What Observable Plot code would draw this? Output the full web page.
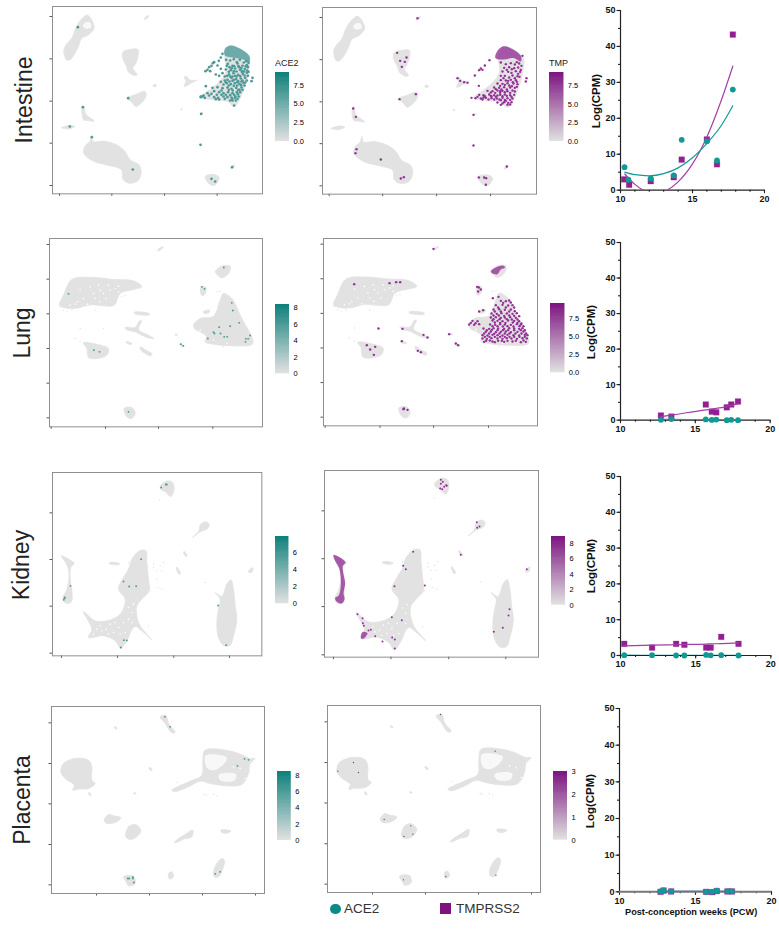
<!DOCTYPE html>
<html><head><meta charset="utf-8">
<script src="https://cdn.jsdelivr.net/npm/d3@7"></script>
<script src="https://cdn.jsdelivr.net/npm/@observablehq/plot@0.6"></script>
<style>
html,body{margin:0;padding:0;background:#fff}
#page{position:relative;width:779px;height:930px;overflow:hidden;font-family:"Liberation Sans",Arial,sans-serif}
#page>svg,#page>figure{position:absolute;margin:0;background:transparent}
.lab{position:absolute;white-space:nowrap;line-height:1;color:#222}
.rot{transform:translate(-50%,-50%) rotate(-90deg)}
</style></head><body><div id="page"></div>
<script>
// ---------- cell map outlines (UMAP position) ----------
const intestineCells=[
[260,44,280,80,264,102,242,114,232,140,207,178,197,178,189,150,198,130,213,113,224,85,240,58],
[430,55,442,45,444,47,433,57],
[366,155,388,147,411,147,411,170,404,190,396,203,409,223,398,224,382,213,376,195,366,175],
[380,293,405,282,433,273,434,291,405,318,394,306],
[245,318,250,318,254,340,280,362,262,360,248,358],
[182,382,205,375,222,378,205,385],
[272,406,276,423,310,422,345,432,372,452,388,478,415,494,421,515,411,541,385,548,367,537,362,508,320,494,280,483,249,459,252,437,267,423],
[550,230,558,228,565,238,587,240,570,248,560,255,550,258,555,242],
[458,252,467,254,465,258,458,258],
[600,290,640,258,675,215,672,165,690,135,745,170,745,200,730,265,700,318,680,303,640,298],
[613,528,640,522,655,532,640,555,625,550],
[689,503,699,493,701,495,692,505],[597,342,606,337,606,340,598,344],[540,325,544,325,544,328,540,328]];
const intestineHoles=[[250,68,268,66,271,80,256,85,247,78]];
const lungCells=[
[178,225,190,195,215,148,280,142,340,148,400,152,425,170,400,178,360,190,342,225,300,226,270,224,230,234,200,234],
[472,60,487,50,489,52,474,62],
[645,125,665,108,690,108,685,130,665,143,650,132],
[603,170,618,172,612,195,604,195],
[580,285,600,265,640,258,660,210,670,190,695,205,725,265,758,330,755,343,700,347,640,342,615,335,618,318,600,305,585,298],
[610,244,628,240,627,247,612,250],
[403,246,447,250,447,254,403,250],
[375,292,405,292,418,272,424,272,415,298,445,315,462,325,440,322,405,305,378,298],
[525,312,531,313,530,316,525,315],[540,340,552,347,550,351,539,343],
[378,334,395,340,393,343,379,338],
[420,350,440,362,455,370,452,377,432,368,422,360],
[250,338,300,345,325,355,320,375,290,385,265,382,260,355],
[372,535,395,532,405,548,395,565,380,560]];
const lungHoles=[];
const kidneyCells=[
[482,58,500,46,515,48,522,68,512,92,495,78,480,68],
[577,215,597,195,600,178,615,168,627,175,622,188,600,198],
[183,270,205,280,222,293,212,303,210,340,215,375,215,405,205,413,192,408,188,395,197,378,205,350,205,310,195,288],
[418,255,437,255,440,290,445,340,447,375,425,400,410,420,410,450,420,480,455,522,425,495,405,482,393,495,385,515,372,537,362,548,345,525,310,510,265,515,275,490,250,438,285,465,320,465,360,445,375,400,355,370,370,335,385,310,395,280],
[645,380,665,392,680,355,692,342,700,370,705,420,710,460,700,510,690,538,672,540,655,515,650,470,655,430,660,400],
[550,258,553,258,561,270,557,272],[528,305,531,305,541,323,537,325],[745,316,758,305,756,318,747,320],[328,290,358,293,357,296,328,294]];
const kidneyHoles=[];
const placentaCells=[
[182,230,190,205,225,190,265,195,275,215,275,255,285,265,265,280,235,282,218,285,222,270,195,250],
[515,285,570,258,605,240,608,195,615,165,700,170,750,190,765,190,750,205,745,235,725,268,680,272,630,265,600,258,565,275,525,289],
[480,65,497,60,505,85,525,112,515,113,495,85],
[342,96,347,95,351,100,346,101],[446,218,450,217,456,225,452,226],[400,293,404,292,408,296,404,297],[265,293,269,293,272,302,269,302],
[312,375,325,358,340,362,362,368,350,380,320,385],
[377,425,385,395,405,388,422,405,410,425,390,433],
[522,442,535,430,555,418,578,405,575,425,550,432,528,442],
[662,405,692,407,685,413,665,412],
[640,530,650,505,665,490,673,495,668,520,655,545,643,545],
[505,535,515,530,520,545,508,552],
[370,545,400,543,405,565,385,572,378,560]];
const placentaHoles=[[616,182,650,178,680,188,670,208,640,225,620,218],[655,240,690,233,708,238,703,256,662,256]];

// white gaps and stray grey cells
const lungGaps=[232,215,250,205,262,222,285,205,298,215,310,190,318,205,330,180,345,175,355,185,240,178,270,170,295,165,325,165,355,168,210,225,225,222,280,190,300,180,680,340,640,330,600,300];
const lungStray=[180,230,190,240,200,245,215,240,285,240,240,295,310,295,225,325,240,335,365,198,375,195,660,183,670,350,650,185];
const kidneyGaps=[300,480,318,490,330,475,345,470,355,485,340,500,325,505,305,495,370,470,385,460,395,470,360,505,375,500,395,440,385,425,400,415,290,490,280,505];
const kidneyStray=[440,300,460,305,470,315,490,290,480,300,485,315,470,340,475,365,485,370,450,375,460,295,478,103,615,350,385,290,445,480];
const intestineGaps=[680,240,700,270,665,270,640,280,700,215];
const intestineStray=[695,310,670,300,650,300];
const placentaGaps=[700,215,720,220,735,250];
const placentaStray=[530,262,540,270,548,275,612,297,618,300,640,298,650,302];

// ---------- expressing cells ----------
const intestineAce=[231,80,246,320,382,293,207,378,273,410,396,507,601,340,599,433,694,500,632,535,643,543,755,232,752,242,
665,160,660,171,654,181,640,185,632,196,620,208,628,212,625,200,645,222,665,218,672,228,655,226,
681,190,695,196,710,189,725,196,738,194,675,207,690,209,703,204,718,208,732,205,741,200,
685,222,698,218,712,223,726,220,738,217,680,238,692,232,706,236,720,234,733,232,
668,252,678,248,690,251,702,248,716,250,728,247,615,257,635,262,650,260,665,263,680,261,692,265,706,262,722,261,
620,278,640,272,655,275,668,278,682,275,695,278,708,275,718,275,600,288,608,285,625,285,640,290,652,292,668,288,680,290,692,291,704,288,714,288,
655,297,695,300,705,300,688,300,700,315,686,200,700,197,715,200,730,213,695,228,710,245,725,240,684,255,696,270,712,268,675,283,662,283,600,290,605,288,
676,178,688,180,699,176,708,185,717,178,729,186,736,182,743,187,
678,196,684,214,693,203,699,212,707,213,713,197,721,203,725,212,735,197,739,210,743,214,
679,226,688,228,703,226,707,228,718,227,723,214,731,225,741,226,
674,244,686,243,695,241,699,238,712,242,722,243,738,240,733,246,
660,244,672,240,684,268,699,256,709,255,721,254,731,255,
688,284,700,283,711,281,725,268,716,268,702,292,694,296,710,295,672,295,662,270,648,283,632,280,612,292,645,296,
636,188,650,195,614,212,660,205];
const intestineAceDense=[[672,145,690,135,745,165,745,185,730,178,700,172,672,165]];
const intestineTmp=[350,52,289,156,298,180,317,170,312,183,303,198,157,323,165,348,296,295,345,280,167,445,164,457,240,476,300,533,309,529,470,232,478,240,490,244,500,246,534,255,522,224,518,342,518,434,618,497,534,530,550,530,556,532,555,552,677,232,675,242,665,165,566,178,552,194,540,203,535,208,545,207,
615,190,642,191,655,188,610,201,625,199,640,202,652,200,605,212,622,213,645,211,658,213,612,225,635,224,650,226,600,238,615,239,630,237,645,238,590,248,605,249,620,247,638,248,650,250,
580,260,595,261,610,259,628,260,642,261,560,270,575,271,590,269,605,270,620,271,635,269,535,282,548,283,565,281,580,283,598,282,612,281,628,283,640,282,
512,291,524,292,540,293,555,291,572,292,588,293,605,291,620,292,635,293,590,305,610,304,622,306,632,304,620,312,628,311,598,276,585,288,600,298,570,285,548,290,
600,185,630,187,648,184,662,195,618,207,633,205,660,207,632,216,652,219,600,225,625,230,642,232,656,228,
608,232,622,240,636,244,598,255,612,252,625,254,648,258,585,265,602,266,618,266,633,256,
570,275,583,276,598,271,612,274,628,276,552,286,572,287,590,284,605,286,618,285,632,288,
530,288,545,296,563,296,580,296,596,296,612,297,628,297,600,312,615,300,605,308,642,272,648,243];
const intestineTmpDense=[[590,150,605,137,625,140,660,165,660,182,640,172,610,176,590,175,583,170]];
const lungAce=[205,191,281,360,298,365,385,545,542,342,549,347,605,170,613,176,671,112,695,218,698,241,717,278,690,288,657,291,640,306,643,310,661,310,623,325,672,320,681,320,750,316,744,326,737,326,736,335];
const lungTmp=[398,56,160,162,266,159,286,156,298,156,233,295,305,296,303,333,198,345,223,350,208,358,219,374,368,314,380,322,351,362,360,366,445,312,465,340,472,345,529,170,534,172,540,178,532,184,535,244,547,240,576,204,593,200,308,537,320,539,309,535,
600,212,615,213,625,211,585,225,605,224,622,226,635,225,578,238,595,237,612,239,630,238,572,250,588,251,602,249,618,250,635,251,648,249,570,262,585,261,600,263,612,262,628,261,645,263,
515,272,530,273,575,271,590,272,605,273,622,271,640,272,655,273,505,283,520,284,535,282,568,283,583,284,598,282,612,283,630,284,648,282,660,283,
548,295,565,296,578,294,592,295,610,296,625,294,640,295,655,296,665,294,555,305,570,304,585,306,600,305,615,304,630,306,650,305,668,304,
545,315,560,316,575,314,590,315,605,316,620,314,638,315,655,316,672,314,680,315,545,325,558,326,572,324,590,325,605,326,618,324,632,325,648,326,665,324,678,325,550,335,575,334,582,336,610,335,635,334,660,336,675,335,
607,218,630,217,592,232,615,232,640,232,582,244,600,244,625,244,642,243,578,256,594,256,610,257,625,256,640,257,655,258,
578,267,596,267,618,267,633,268,650,268,510,278,524,279,582,277,598,278,614,278,636,277,650,278,662,280,
575,288,590,288,606,289,620,288,638,289,656,288,668,288,558,300,573,299,590,300,606,300,622,300,640,300,660,300,672,300,
550,310,565,310,580,311,596,310,612,310,626,310,644,310,662,310,676,310,552,320,566,320,582,320,598,320,612,320,626,320,640,320,656,320,672,320,
556,332,567,331,592,332,603,332,620,332,645,332,668,331];
const lungTmpDense=[[570,123,585,112,605,106,613,112,600,118,590,132,575,130]];
const kidneyAce=[497,56,500,56,483,65,211,360,193,397,194,395,191,402,423,280,370,347,387,362,408,361,654,419,678,538,371,523,380,524,362,545];
const kidneyTmp=[422,44,428,50,422,56,438,60,432,65,420,70,426,72,440,62,530,171,538,184,531,188,482,269,680,312,339,260,309,302,317,312,283,363,374,361,628,432,625,451,608,488,581,500,275,456,305,465,172,447,187,459,188,474,191,482,205,496,212,494,225,513,247,529,276,517,284,523,284,550];
const kidneyTmpDense=[[100,270,118,276,136,292,128,302,129,320,135,355,130,385,133,402,124,415,108,408,105,398,116,390,122,355,117,310,106,290],[182,512,188,500,202,504,192,519,183,520]];
const placentaAce=[494,65,510,95,733,191,745,194,712,212,645,536,660,530,383,550,387,550,398,546,398,550,401,562];
const placentaTmp=[421,58,585,168,160,202,113,228,175,232,252,373,332,392,311,424,338,417,310,554,437,544,587,540];

// ---------- trend panels: weeks and Log(CPM) ----------
const intestineWeeks=[10.28,10.55,12.1,13.7,14.25,16,16.7,17.8];
const intestineAceCpm=[6.4,2.9,3.25,4.1,14,13.6,8.25,28];
const intestineTmpWeeks=[10.25,10.6,12.1,13.7,14.25,16,16.7,17.8];
const intestineTmpCpm=[3,1.5,2.5,3.6,8.5,14.1,7.2,43.3];
const intestineAceFitX=[10.3,11,12,13,14,15,16,17,17.8];
const intestineAceFitY=[5,4.3,4,4.6,6.2,9,13,18,23.5];
const intestineTmpFitX=[10.3,11,11.5,12,12.5,13,14,15,16,17,17.8];
const intestineTmpFitY=[4.5,1.6,0.2,-0.6,-0.8,-0.4,2.3,7.3,14.8,25,34.5];
const lungWeeks=[12.7,13.4,15.7,16.1,16.4,17.1,17.4,17.85];
const lungAceCpm=[0.1,0.3,0.2,0.05,0.15,0,0.1,0];
const lungTmpCpm=[1.3,1,4.4,2.4,2.2,3.6,4.4,5.25];
const lungAceFitY=[0.2,0.2,0.1,0.1,0.1,0.05,0.05,0];
const lungTmpFitY=[1,1.4,2.9,3.1,3.3,3.8,4.2,4.6];
const kidneyWeeks=[10.25,12.1,13.7,14.25,15.7,16,16.7,17.85];
const kidneyAceCpm=[0.1,0.1,0,0,0.15,0.05,0.1,0];
const kidneyTmpCpm=[3.25,2.2,3.25,3,2.2,2.2,5.2,3.25];
const kidneyAceFitY=[0.1,0.05,0.05,0.05,0.05,0.05,0.05,0.05];
const kidneyTmpFitY=[2.7,2.9,3,3.05,3.2,3.25,3.3,3.5];
const placentaWeeks=[12.7,12.9,13.4,15.7,16.1,16.4,17.1,17.4];
const placentaAceCpm=[0.1,0.4,0.1,0,0,0.3,0.15,0.15];
const placentaTmpCpm=[0,0.35,0.1,0,-0.1,0.2,0.1,0.1];
const placentaFitY=[0.1,0.1,0.1,0.1,0.1,0.1,0.1,0.1];

// ---------- layout and styles ----------
const grey="#e2e2e2", teal="#4b9a98", magenta="#932f96";
const tissues={
 intestine:{cells:intestineCells,holes:intestineHoles,gaps:intestineGaps,stray:intestineStray,xt:[176,333,491,649],yt:[48,175,302,428,555]},
 lung:{cells:lungCells,holes:lungHoles,gaps:lungGaps,stray:lungStray,xt:[153,316,475,638],yt:[43,147,251,355,459,563]},
 kidney:{cells:kidneyCells,holes:kidneyHoles,gaps:kidneyGaps,stray:kidneyStray,xt:[184,352,521,688],yt:[141,281,421,562]},
 placenta:{cells:placentaCells,holes:placentaHoles,gaps:placentaGaps,stray:placentaStray,xt:[289,448,607,766],yt:[83,205,326,448,569]}
};
const page=document.getElementById("page");
const rows=(flat)=>{const r=[];for(let i=0;i<flat.length;i+=2)r.push({x:flat[i],y:flat[i+1]});return r;};
const shapes=(list,fx=d=>d,fy=d=>d)=>list.flatMap((s,id)=>rows(s).map(p=>({x:fx(p.x),y:fy(p.y),id})));
const place=(el,left,top)=>{el.style.left=left+"px";el.style.top=top+"px";el.style.position="absolute";page.appendChild(el);};
const label=(text,x,y,size,opts={})=>{const d=document.createElement("div");d.className="lab"+(opts.rot?" rot":"");d.textContent=text;
 d.style.left=x+"px";d.style.top=y+"px";d.style.fontSize=size+"px";if(opts.bold)d.style.fontWeight="bold";if(opts.color)d.style.color=opts.color;page.appendChild(d);};

function umap(t,crop,frame,ticks,dots,dense,colour,dotR){
 const m=tissues[t],mL=5,mB=5,mT=1,mR=1;
 const calX=d3.scaleLinear([ticks.x[0],ticks.x[ticks.x.length-1]],[m.xt[0],m.xt[m.xt.length-1]]);
 const calY=d3.scaleLinear([ticks.y[0],ticks.y[ticks.y.length-1]],[m.yt[0],m.yt[m.yt.length-1]]);
 const W=(frame[1]-frame[0])/3,H=(frame[3]-frame[2])/3;
 const chart=Plot.plot({width:W+mL+mR,height:H+mT+mB,marginLeft:mL,marginRight:mR,marginTop:mT,marginBottom:mB,
  style:{background:"transparent",overflow:"visible",filter:"blur(0.3px)"},
  x:{domain:[calX(frame[0]),calX(frame[1])]},y:{domain:[calY(frame[3]),calY(frame[2])]},
  marks:[
   Plot.line(shapes(m.cells),{x:"x",y:"y",z:"id",fill:grey,stroke:grey,strokeWidth:0.8,curve:"catmull-rom-closed"}),
   Plot.line(shapes(m.holes),{x:"x",y:"y",z:"id",fill:"#f8f8f8",stroke:"none",curve:"catmull-rom-closed"}),
   Plot.dot(rows(m.gaps),{x:"x",y:"y",r:0.8,fill:"#fff"}),
   Plot.dot(rows(m.stray),{x:"x",y:"y",r:0.7,fill:grey}),
   Plot.line(shapes(dense,calX,calY),{x:"x",y:"y",z:"id",fill:colour,fillOpacity:0.78,stroke:"none",curve:"catmull-rom-closed"}),
   Plot.dot(rows(dots).map(p=>({x:calX(p.x),y:calY(p.y)})),{x:"x",y:"y",r:dotR,fill:colour}),
   Plot.axisX(m.xt,{anchor:"bottom",tickSize:2.5,tickFormat:()=>"",label:null,stroke:"#555"}),
   Plot.axisY(m.yt,{anchor:"left",tickSize:2.5,tickFormat:()=>"",label:null,stroke:"#555"}),
   Plot.frame({stroke:"#8f8f8f",strokeWidth:1})
  ]});
 place(chart,crop[0]+frame[0]/3-mL,crop[1]+frame[2]/3-mT);
}
function colourBar(crop,box,max,ticks,high,fmt,title){
 const W=(box[1]-box[0])/3,H=(box[3]-box[2])/3,mR=20;
 const steps=d3.range(0,60).map(i=>({a:i/60*max,b:Math.min(max,(i+1.6)/60*max)}));
 const chart=Plot.plot({width:W+mR,height:H+2,marginLeft:0,marginRight:mR,marginTop:1,marginBottom:1,
  style:{background:"transparent",fontFamily:"Liberation Sans",fontSize:"7.5px",overflow:"visible"},
  x:{domain:[0,1],axis:null},y:{domain:[0,max]},color:{type:"linear",domain:[0,max],range:["#e0e0e0",high]},
  marks:[Plot.rect(steps,{x1:0,x2:1,y1:"a",y2:"b",fill:"a"}),
   Plot.axisY(ticks,{anchor:"right",tickSize:0,tickPadding:4,tickFormat:fmt,label:null})]});
 const left=crop[0]+box[0]/3,top=crop[1]+box[2]/3;
 place(chart,left,top-1);
 if(title)label(title,left,top-13,9,{color:"#222"});
}
function trend(crop,xpx,ypx,s,ylabelX){
 const mL=26,mR=12,mT=6,mB=16;
 const W=(xpx[1]-xpx[0])/3,H=(ypx[0]-ypx[1])/3;
 const ax={stroke:"#222",strokeWidth:1.1,label:null};
 const chart=Plot.plot({width:W+mL+mR,height:H+mT+mB,marginLeft:mL,marginRight:mR,marginTop:mT,marginBottom:mB,
  style:{background:"transparent",fontFamily:"Liberation Sans",fontWeight:"bold",fontSize:"9px",overflow:"visible",color:"#111"},
  x:{domain:[10,20]},y:{domain:[0,50]},
  marks:[
   Plot.axisX(d3.range(10,21),{anchor:"bottom",tickSize:2,tickFormat:()=>"",...ax}),
   Plot.axisX([10,15,20],{anchor:"bottom",tickSize:3.5,tickPadding:2,tickFormat:d=>d,...ax}),
   Plot.axisY(d3.range(0,51,5),{anchor:"left",tickSize:2,tickFormat:()=>"",...ax}),
   Plot.axisY([0,10,20,30,40,50],{anchor:"left",tickSize:3.5,tickPadding:1.5,tickFormat:d=>d,...ax}),
   Plot.ruleX([10],{stroke:"#222",strokeWidth:1.2}),
   Plot.ruleY([0],{stroke:s.thick?"#777":"#222",strokeWidth:s.thick?2:1.2}),
   Plot.dot(d3.zip(s.tmpX,s.tmpY),{x:"0",y:"1",symbol:"square",r:3.2,fill:"#932092",stroke:"#932092",strokeWidth:0.3}),
   Plot.line(d3.zip(s.tfx,s.tfy),{x:"0",y:"1",stroke:"#a43da6",strokeWidth:1.2,curve:"monotone-x",clip:true}),
   Plot.line(d3.zip(s.afx,s.afy),{x:"0",y:"1",stroke:"#149a98",strokeWidth:1.2,curve:"monotone-x",clip:true}),
   Plot.dot(d3.zip(s.aceX,s.aceY),{x:"0",y:"1",r:2.9,fill:"#0f9a98"})
  ]});
 place(chart,crop[0]+xpx[0]/3-mL,crop[1]+ypx[1]/3-mT);
 label("Log(CPM)",ylabelX,crop[1]+(ypx[0]+ypx[1])/6+1,11.5,{rot:true,bold:true,color:"#111"});
}

// ---------- draw ----------
const f1=d3.format(".1f"),f0=d=>d;
umap("intestine",[0,0],[155,785,18,580],{x:[176,333,491,649],y:[48,175,302,428,555]},intestineAce,intestineAceDense,teal,1.35);
umap("intestine",[300,0],[65,707,20,580],{x:[85,246,407,569],y:[50,177,303,429,555]},intestineTmp,intestineTmpDense,magenta,1.2);
umap("lung",[0,230],[148,787,25,590],{x:[153,316,475,638],y:[43,147,251,355,459,563]},lungAce,[],teal,0.95);
umap("lung",[300,230],[68,710,25,587],{x:[73,237,400,563],y:[42,145,249,353,457,561]},lungTmp,lungTmpDense,magenta,1.2);
umap("kidney",[0,465],[157,785,20,570],{x:[184,352,521,688],y:[141,281,421,562]},kidneyAce,[],teal,0.95);
umap("kidney",[300,465],[73,715,16,576],{x:[100,272,445,617],y:[137,281,425,569]},kidneyTmp,kidneyTmpDense,magenta,1);
umap("placenta",[0,695],[154,793,34,595],{x:[289,448,607,766],y:[83,205,326,448,569]},placentaAce,[],teal,0.95);
umap("placenta",[300,695],[82,721,31,592],{x:[217,376,535,694],y:[80,202,324,446,567]},placentaTmp,[],"#5c4a5c",0.65);

colourBar([0,0],[825,867,215,422],9.2,[0,2.5,5,7.5],"#0b7f7a",f1,"ACE2");
colourBar([300,0],[747,790,215,422],9.27,[0,2.5,5,7.5],"#7b1280",f1,"TMP");
colourBar([0,230],[826,868,222,430],8.4,[0,2,4,6,8],"#0b7f7a",f0);
colourBar([300,230],[750,793,220,428],9.57,[0,2.5,5,7.5],"#7b1280",f1);
colourBar([0,465],[826,866,213,415],7.9,[0,2,4,6],"#0b7f7a",f0);
colourBar([300,465],[754,796,212,418],8.86,[0,2,4,6,8],"#7b1280",f0);
colourBar([0,695],[832,873,229,436],8.5,[0,2,4,6,8],"#0b7f7a",f0);
colourBar([300,695],[760,802,227,433],3,[0,1,2,3],"#7b1280",f0);

trend([580,0],[121,553],[569,30],{aceX:intestineWeeks,aceY:intestineAceCpm,tmpX:intestineTmpWeeks,tmpY:intestineTmpCpm,afx:intestineAceFitX,afy:intestineAceFitY,tfx:intestineTmpFitX,tfy:intestineTmpFitY},597);
trend([580,230],[121,570],[569,36],{aceX:lungWeeks,aceY:lungAceCpm,tmpX:lungWeeks,tmpY:lungTmpCpm,afx:lungWeeks,afy:lungAceFitY,tfx:lungWeeks,tfy:lungTmpFitY},592);
trend([580,465],[121,572],[569,32],{aceX:kidneyWeeks,aceY:kidneyAceCpm,tmpX:kidneyWeeks,tmpY:kidneyTmpCpm,afx:kidneyWeeks,afy:kidneyAceFitY,tfx:kidneyWeeks,tfy:kidneyTmpFitY},592);
trend([580,695],[116,572],[590,40],{aceX:placentaWeeks,aceY:placentaAceCpm,tmpX:placentaWeeks,tmpY:placentaTmpCpm,afx:placentaWeeks,afy:placentaFitY,tfx:placentaWeeks,tfy:placentaFitY,thick:true},591);

label("Intestine",24,100,23,{rot:true});
label("Lung",22,333,23,{rot:true});
label("Kidney",21,565,23,{rot:true});
label("Placenta",22,800,23,{rot:true});
label("Post-conception weeks (PCW)",625,907.5,9.2,{bold:true,color:"#111"});
label("ACE2",344,902,13.5,{color:"#333"});
label("TMPRSS2",456,902,13.5,{color:"#333"});
const sw=(left,top,size,col,round)=>{const d=document.createElement("div");d.style.cssText=`position:absolute;left:${left}px;top:${top}px;width:${size}px;height:${size}px;background:${col};border-radius:${round?"50%":"0"}`;page.appendChild(d);};
sw(330,903.5,10.6,"#0b8a87",true);
sw(440,903,11,"#80127f",false);
</script></body></html>
